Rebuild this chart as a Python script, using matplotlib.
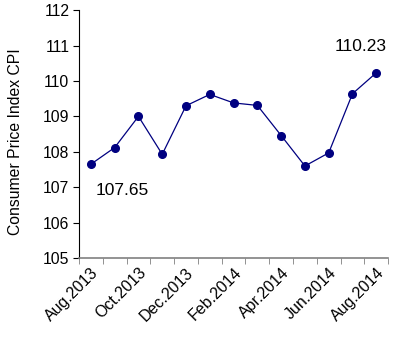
import matplotlib
matplotlib.use("Agg")
import matplotlib.pyplot as plt
import numpy as np

months = ["Aug.2013", "Sep.2013", "Oct.2013", "Nov.2013", "Dec.2013", "Jan.2014",
          "Feb.2014", "Mar.2014", "Apr.2014", "May.2014", "Jun.2014", "Jul.2014", "Aug.2014"]
cpi = [107.65, 108.12, 109.0, 107.93, 109.3, 109.62, 109.38, 109.31, 108.46, 107.6, 107.97, 109.64, 110.23]
yticks = [105, 106, 107, 108, 109, 110, 111, 112]

plt.rcParams['font.family'] = ['Liberation Sans', 'DejaVu Sans']
fig = plt.figure(figsize=(4.01, 3.6), dpi=100)
ax = fig.add_axes([0.197, 0.283, 0.771, 0.689])
x = np.arange(len(months))
ax.plot(x, cpi, color='#000080', lw=0.9, marker='o', ms=5.5)
ax.set_xlim(-0.5, len(months) - 0.5)
ax.set_ylim(105, 112)
ax.set_yticks(yticks)
ax.set_yticklabels([str(v) for v in yticks], fontsize=11.3)
ax.set_xticks(np.arange(-0.5, len(months), 1.0), minor=True)
ax.set_xticks(x[::2])
ax.set_xticklabels(months[::2], rotation=45, ha='right', rotation_mode='anchor', fontsize=11.5)
ax.tick_params(axis='x', which='major', length=0, pad=5)
ax.tick_params(axis='x', which='minor', length=4, direction='out', color='#808080')
ax.tick_params(axis='y', length=4, direction='out', pad=3)
ax.spines['top'].set_visible(False)
ax.spines['right'].set_visible(False)
ax.spines['bottom'].set_color('#808080')
ax.spines['bottom'].set_linewidth(1.2)
ax.set_ylabel("Consumer Price Index CPI", fontsize=11.3)
ax.yaxis.set_label_coords(-0.18, 0.468)
ax.text(1.31, 106.9, f"{cpi[0]:.2f}", ha='center', va='center', fontsize=12.5)
ax.text(11.34, 110.96, f"{cpi[-1]:.2f}", ha='center', va='center', fontsize=12.5)
fig.savefig("out.png", dpi=100)
